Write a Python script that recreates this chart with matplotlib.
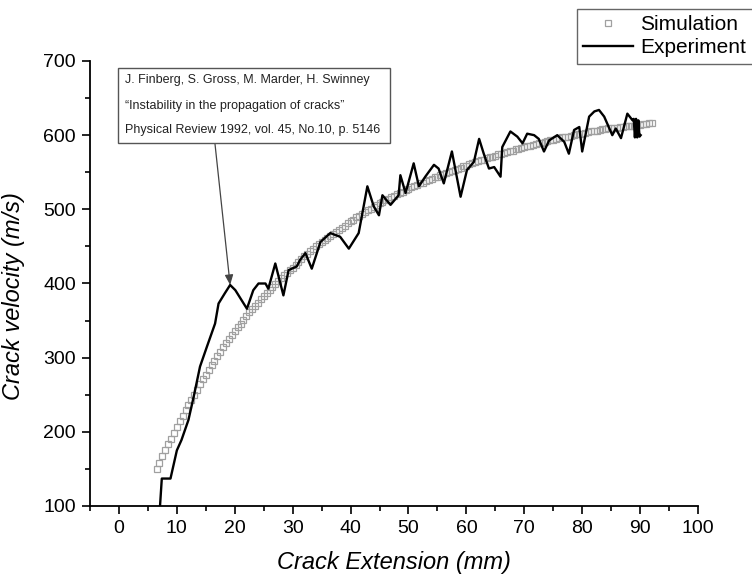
import matplotlib
matplotlib.use("Agg")
import matplotlib.pyplot as plt
from matplotlib.ticker import MultipleLocator
from matplotlib.patches import Rectangle

plt.rcParams['font.family'] = ['Liberation Sans', 'DejaVu Sans']

# ---- data ----
# simulation: one value every 0.5 mm starting at 6.5 mm
sim_start, sim_step = 6.5, 0.5
sim_y = [150, 158, 167, 175, 183, 191, 199, 206, 214, 221, 229, 236, 243, 250, 257, 264, 271, 277,
         284, 290, 296, 302, 308, 314, 320, 325, 331, 336, 341, 346, 351, 356, 361, 365, 370, 374,
         379, 383, 387, 391, 395, 399, 403, 407, 411, 414, 418, 421, 425, 429, 433, 437, 440, 444,
         447, 450, 453, 456, 459, 461, 464, 467, 470, 472, 475, 478, 481, 484, 486, 489, 491, 494,
         496, 499, 501, 503, 506, 508, 510, 512, 514, 516, 518, 520, 522, 524, 526, 528, 530, 531,
         533, 535, 536, 538, 540, 541, 543, 544, 546, 547, 549, 550, 552, 553, 555, 556, 558, 559,
         561, 562, 564, 565, 566, 567, 569, 570, 571, 572, 574, 575, 576, 577, 578, 579, 581, 582,
         583, 584, 585, 586, 587, 588, 589, 590, 591, 592, 593, 594, 595, 596, 597, 597, 598, 599,
         600, 601, 602, 602, 603, 604, 605, 605, 606, 607, 608, 608, 609, 609, 610, 610, 611, 611,
         612, 612, 613, 613, 614, 614, 615, 615, 616, 616]
sim_x = [sim_start + sim_step * i for i in range(len(sim_y))]

exp_x = [7.1, 7.4, 8.9, 10.0, 10.8, 12.0, 12.9, 14.0, 15.2, 16.6, 17.2, 18.3, 19.2, 20.1, 22.1,
         23.2, 24.1, 25.3, 25.8, 27.0, 28.4, 29.3, 30.7, 31.3, 32.2, 33.3, 34.8, 36.5, 38.2,
         39.7, 41.4, 42.9, 44.0, 44.9, 45.5, 46.9, 48.3, 48.6, 49.5, 50.9, 51.8, 52.9, 54.4,
         55.2, 56.1, 57.5, 59.0, 60.1, 61.3, 62.2, 63.0, 63.9, 64.8, 65.9, 66.2, 67.6, 68.8,
         69.7, 70.5, 71.7, 72.5, 73.4, 74.3, 75.7, 76.9, 77.7, 78.6, 79.5, 80.0, 81.2, 82.1,
         82.9, 83.8, 85.2, 85.8, 86.7, 87.8, 88.7, 88.9, 89.1, 89.3, 89.5, 89.7, 89.9, 90.1]
exp_y = [101, 137, 137, 175, 189, 216, 247, 288, 315, 346, 373, 387, 398, 391, 366,
         391, 400, 400, 393, 427, 384, 418, 423, 432, 441, 420, 456, 468, 463,
         447, 468, 531, 504, 492, 519, 506, 519, 546, 522, 562, 531, 544, 560,
         555, 535, 578, 517, 553, 564, 595, 575, 555, 557, 544, 584, 605, 598,
         589, 602, 600, 595, 578, 593, 600, 591, 575, 607, 611, 578, 625, 632,
         634, 625, 600, 609, 596, 629, 620, 622, 597, 622, 597, 620, 598, 600]

ann_lines = ["J. Finberg, S. Gross, M. Marder, H. Swinney",
             "\u201cInstability in the propagation of cracks\u201d",
             "Physical Review 1992, vol. 45, No.10, p. 5146"]
ann_target = (19.2, 398)

W, H = 752, 574
fig = plt.figure(figsize=(W / 100, H / 100), dpi=100)
ax = fig.add_axes([90 / W, 1 - 506 / H, (698 - 90) / W, (506 - 61) / H])

ax.plot(sim_x, sim_y, linestyle='none', marker='s', markersize=4.2,
        markerfacecolor='none', markeredgecolor='#a0a0a0', markeredgewidth=0.9,
        label='Simulation', zorder=2)
ax.plot(exp_x, exp_y, color='black', linewidth=1.7, label='Experiment', zorder=3)

ax.set_xlim(-5, 100)
ax.set_ylim(100, 700)
ax.xaxis.set_major_locator(MultipleLocator(10))
ax.xaxis.set_minor_locator(MultipleLocator(5))
ax.yaxis.set_major_locator(MultipleLocator(100))
ax.yaxis.set_minor_locator(MultipleLocator(50))
ax.spines['top'].set_visible(False)
ax.spines['right'].set_visible(False)
for s in ('left', 'bottom'):
    ax.spines[s].set_linewidth(1.3)
ax.tick_params(which='major', direction='out', length=6, width=1.2, labelsize=14, pad=4)
ax.tick_params(which='minor', direction='out', length=3.5, width=1.2)
ax.set_xticks([t for t in range(0, 101, 10)])

ax.set_xlabel('Crack Extension (mm)', fontsize=17, fontstyle='italic', labelpad=10)
ax.set_ylabel('Crack velocity (m/s)', fontsize=17, fontstyle='italic')
ax.yaxis.set_label_coords(-0.107, 0.472)

# annotation box
bx0, bx1, by0, by1 = 118 / W, 390 / W, 1 - 143 / H, 1 - 68 / H
fig.patches.append(Rectangle((bx0, by0), bx1 - bx0, by1 - by0, transform=fig.transFigure,
                             facecolor='white', edgecolor='#555555', linewidth=1.0, zorder=5))
for line, yp in zip(ann_lines, [80, 106, 130]):
    fig.text(125 / W, 1 - yp / H, line, fontsize=9, va='center', ha='left', color='#222222', zorder=6)

ax.annotate('', xy=ann_target, xycoords='data',
            xytext=(215 / W, 1 - 144 / H), textcoords='figure fraction',
            arrowprops=dict(arrowstyle='-|>,head_length=0.6,head_width=0.25',
                            color='#444444', lw=0.9, shrinkA=0, shrinkB=0,
                            facecolor='black'), zorder=6)

leg = fig.legend(loc='upper left', bbox_to_anchor=(577 / W, 1 - 9 / H),
                 bbox_transform=fig.transFigure, fontsize=15, frameon=True,
                 fancybox=False, edgecolor='#666666', framealpha=1,
                 handlelength=2.4, handletextpad=0.35, borderpad=0.3,
                 labelspacing=0.2, borderaxespad=0)
leg.get_frame().set_linewidth(1.0)

fig.savefig('out.png', dpi=100)
